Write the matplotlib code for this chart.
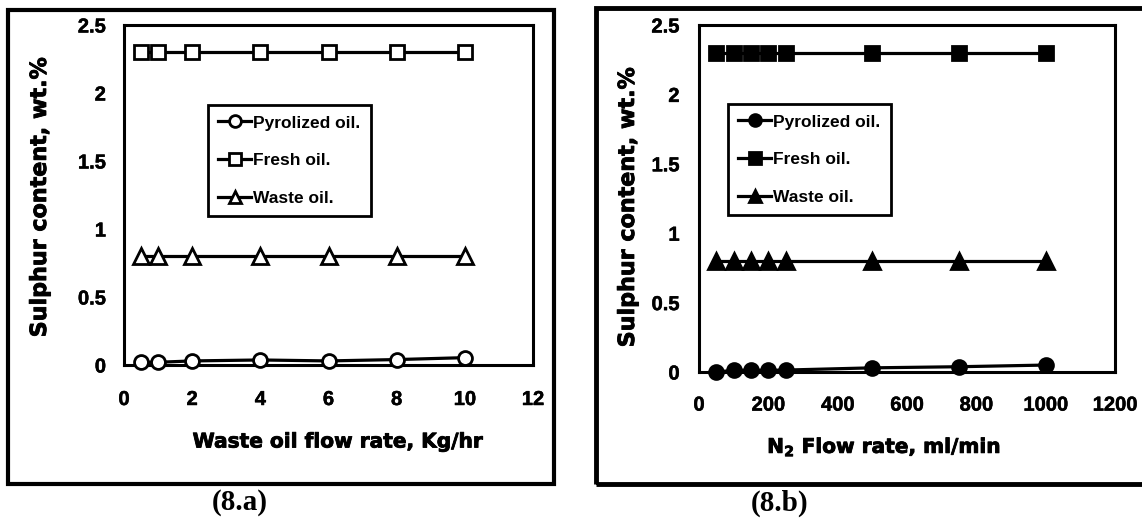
import matplotlib.pyplot as plt
import matplotlib.patheffects as pe
from matplotlib.patches import Rectangle

# panel (8.a): waste oil flow rate
flow_a = [0.5, 1, 2, 4, 6, 8, 10]
pyro_a = [0.02, 0.02, 0.03, 0.037, 0.03, 0.04, 0.054]
fresh_a = [2.3, 2.3, 2.3, 2.3, 2.3, 2.3, 2.3]
waste_a = [0.8, 0.8, 0.8, 0.8, 0.8, 0.8, 0.8]

# panel (8.b): N2 flow rate
flow_b = [50, 100, 150, 200, 250, 500, 750, 1000]
pyro_b = [0.0, 0.012, 0.012, 0.012, 0.014, 0.03, 0.038, 0.05]
fresh_b = [2.3, 2.3, 2.3, 2.3, 2.3, 2.3, 2.3, 2.3]
waste_b = [0.8, 0.8, 0.8, 0.8, 0.8, 0.8, 0.8, 0.8]

labels = ['Pyrolized oil.', 'Fresh oil.', 'Waste oil.']
yticks = [0, 0.5, 1, 1.5, 2, 2.5]
yticklabels = ['0', '0.5', '1', '1.5', '2', '2.5']

W, H = 1142, 521
fig = plt.figure(figsize=(W / 100, H / 100), dpi=100)


def px(x0, y0, x1, y1):
    # pixel box (top-left origin) -> figure fraction rect
    return [x0 / W, 1 - y1 / H, (x1 - x0) / W, (y1 - y0) / H]


heavy = [pe.withStroke(linewidth=0.35, foreground='black')]
heavier = [pe.withStroke(linewidth=0.6, foreground='black')]
tick_font = dict(family='Liberation Sans', weight='bold', size=14.5)
label_font = dict(family='DejaVu Sans', weight='bold', size=14.5)
leg_font = dict(family=['Liberation Sans Narrow', 'Liberation Sans'], weight='bold', size=12.5)


def setup(ax, xmax, xstep, xpad, ypad):
    ax.set_xlim(0, xmax)
    ax.set_ylim(0, 2.5)
    xt = list(range(0, xmax + 1, xstep))
    ax.set_xticks(xt)
    ax.set_xticklabels([str(v) for v in xt], fontdict=tick_font)
    ax.set_yticks(yticks)
    ax.set_yticklabels(yticklabels, fontdict=tick_font)
    for t in ax.get_xticklabels() + ax.get_yticklabels():
        t.set_path_effects(heavy)
    ax.tick_params(length=0)
    ax.tick_params(axis='x', pad=xpad)
    ax.tick_params(axis='y', pad=ypad)
    for s in ax.spines.values():
        s.set_linewidth(2.2)
        s.set_color('black')


def plot_series(ax, x, ys, filled):
    mk = ['o', 's', '^']
    fc = 'black' if filled else 'white'
    for y, m, lab in zip(ys, mk, labels):
        ax.plot(x, y, color='black', lw=2.3, marker=m, ms=10 if m != '^' else 11,
                mfc=fc, mec='black', mew=2, label=lab, clip_on=False, zorder=3)


def add_legend(ax, x0, y0):
    leg = ax.legend(loc='upper left', bbox_to_anchor=(x0 / W, 1 - y0 / H),
                    bbox_transform=fig.transFigure, borderaxespad=0, prop=leg_font,
                    handlelength=1.9, handletextpad=0.1, labelspacing=1.3,
                    fancybox=False, framealpha=1, edgecolor='black', borderpad=0.6,
                    markerscale=0.85)
    leg.get_frame().set_linewidth(2)


# outer frames
fig.patches.append(Rectangle((8 / W, 1 - 484 / H), (554 - 8) / W, (484 - 10) / H,
                             transform=fig.transFigure, fill=False, lw=3, ec='black'))
fig.patches.append(Rectangle((596 / W, 1 - 484 / H), (1150 - 596) / W, (484 - 8) / H,
                             transform=fig.transFigure, fill=False, lw=3.5, ec='black'))

# left panel
ax1 = fig.add_axes(px(124, 25, 533, 365))
setup(ax1, 12, 2, 18, 13)
plot_series(ax1, flow_a, [pyro_a, fresh_a, waste_a], filled=False)
add_legend(ax1, 208, 105)

# right panel
ax2 = fig.add_axes(px(699, 25, 1115, 372))
setup(ax2, 1200, 200, 17, 14)
plot_series(ax2, flow_b, [pyro_b, fresh_b, waste_b], filled=True)
add_legend(ax2, 728, 104)

# axis labels placed in pixel positions
yl_font = dict(label_font, size=16)
fig.text(40 / W, 1 - 197 / H, 'Sulphur content, wt.%', rotation=90, ha='center', va='center',
         path_effects=heavier, **yl_font)
fig.text(628 / W, 1 - 207 / H, 'Sulphur content, wt.%', rotation=90, ha='center', va='center',
         path_effects=heavier, **yl_font)
fig.text(338 / W, 1 - 442 / H, 'Waste oil flow rate, Kg/hr', ha='center', va='center',
         path_effects=heavier, **label_font)
fig.text(884 / W, 1 - 447 / H, r'N$_\mathbf{2}$ Flow rate, ml/min', ha='center', va='center',
         path_effects=heavier, **label_font)

# panel captions
cap_font = dict(family='Liberation Serif', weight='bold', size=21)
fig.text(240 / W, 1 - 503 / H, '(8.a)', ha='center', va='center', **cap_font)
fig.text(780 / W, 1 - 503 / H, '(8.b)', ha='center', va='center', **cap_font)

fig.savefig('out.png', dpi=100)
